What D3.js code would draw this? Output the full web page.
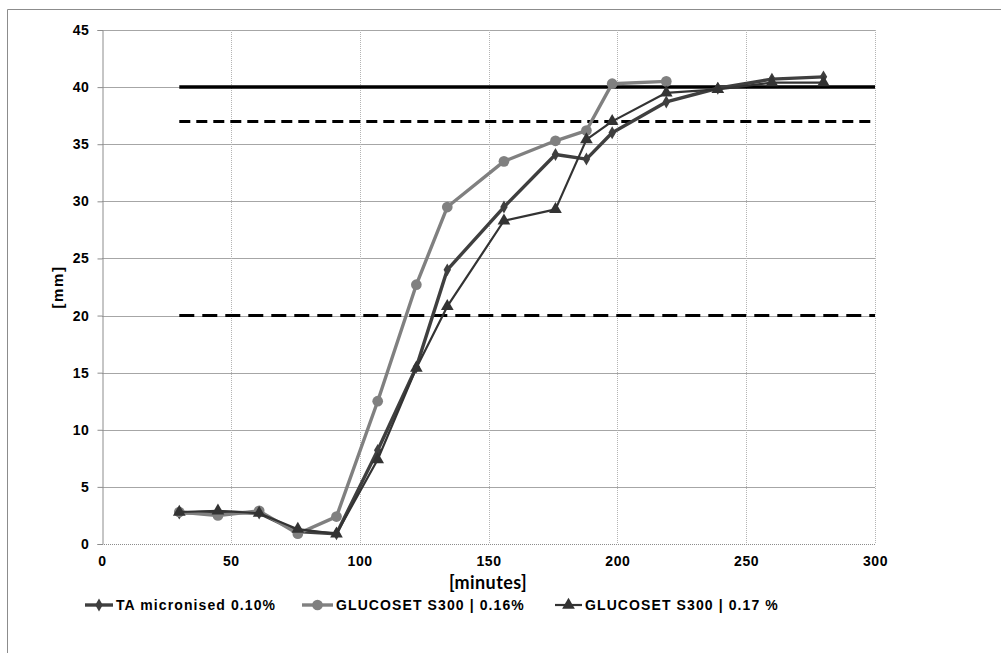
<!DOCTYPE html>
<html>
<head>
<meta charset="utf-8">
<script src="https://cdn.jsdelivr.net/npm/d3@7"></script>
<style>
  html, body { margin: 0; padding: 0; background: #fff; }
  svg { display: block; }
</style>
</head>
<body>
<svg id="chart" width="1001" height="654"></svg>
<script>
// Penetration depth over time for three formulations
const times = [30, 45, 61, 76, 91, 107, 122, 134, 156, 176, 188, 198, 219, 239, 260, 280];
const taMicronised = [2.7, 2.8, 2.7, 1.1, 0.9, 8.2, 15.5, 24.0, 29.5, 34.1, 33.7, 36.0, 38.7, 39.9, 40.7, 40.9];
const glucoset016 = [2.8, 2.5, 2.9, 0.9, 2.4, 12.5, 22.7, 29.5, 33.5, 35.3, 36.2, 40.3, 40.5];
const glucoset017 = [2.8, 2.9, 2.7, 1.3, 0.9, 7.4, 15.4, 20.8, 28.3, 29.3, 35.4, 37.0, 39.5, 39.8, 40.4, 40.4];

const seriesNames = ["TA micronised 0.10%", "GLUCOSET S300 | 0.16%", "GLUCOSET S300 | 0.17 %"];

// Reference levels
const refLevels = [40, 37, 20];
const refStart = 30, refEnd = 300;

const xTicks = [0, 50, 100, 150, 200, 250, 300];
const yTicks = [0, 5, 10, 15, 20, 25, 30, 35, 40, 45];

const svg = d3.select("#chart");

// outer frame
svg.append("path")
  .attr("d", "M7.5,653 L7.5,9.5 L1001,9.5")
  .attr("fill", "none").attr("stroke", "#8c8c8c").attr("stroke-width", 1);

const x = d3.scaleLinear().domain([0, 300]).range([102, 875]);
const y = d3.scaleLinear().domain([0, 45]).range([544, 30]);

const fontTick = "'Liberation Sans', Arial, sans-serif";

// horizontal grid
svg.append("g").selectAll("line").data(yTicks.filter(d => d > 0)).join("line")
  .attr("x1", x(0)).attr("x2", x(300))
  .attr("y1", d => Math.round(y(d)) + 0.5).attr("y2", d => Math.round(y(d)) + 0.5)
  .attr("stroke", "#a6a6a6").attr("stroke-width", 1);

// vertical dotted grid
svg.append("g").selectAll("line").data(xTicks.filter(d => d > 0)).join("line")
  .attr("x1", d => Math.round(x(d)) + 0.5).attr("x2", d => Math.round(x(d)) + 0.5)
  .attr("y1", y(45)).attr("y2", y(0))
  .attr("stroke", "#b4b4b4").attr("stroke-width", 1).attr("stroke-dasharray", "1,1");

// x axis baseline (dotted)
svg.append("line")
  .attr("x1", x(0)).attr("x2", x(300))
  .attr("y1", Math.round(y(0)) + 0.5).attr("y2", Math.round(y(0)) + 0.5)
  .attr("stroke", "#8c8c8c").attr("stroke-dasharray", "1,1");

// y axis
const yAxis = d3.axisLeft(y).tickValues(yTicks).tickSize(5).tickPadding(8).tickFormat(d3.format("d"));
const gy = svg.append("g").attr("transform", `translate(${Math.round(x(0)) + 0.5},0)`).call(yAxis);
gy.select(".domain").attr("stroke", "#8c8c8c");
gy.selectAll(".tick line").attr("stroke", "#8c8c8c");
gy.selectAll("text").attr("font-family", fontTick).attr("font-weight", "bold")
  .attr("font-size", 14).attr("letter-spacing", 0.6).attr("fill", "#000");

// x axis labels
const xAxis = d3.axisBottom(x).tickValues(xTicks).tickSize(0).tickPadding(12).tickFormat(d3.format("d"));
const gx = svg.append("g").attr("transform", `translate(0,${y(0)})`).call(xAxis);
gx.select(".domain").remove();
gx.selectAll("text").attr("font-family", fontTick).attr("font-weight", "bold")
  .attr("font-size", 14).attr("letter-spacing", 0.6).attr("fill", "#000");

// axis titles
svg.append("text").attr("x", 488).attr("y", 589).attr("text-anchor", "middle")
  .attr("font-family", "Lato, 'Open Sans', sans-serif").attr("font-weight", "bold")
  .attr("font-size", 18).attr("letter-spacing", 0.4).attr("fill", "#000").text("[minutes]");
svg.append("text").attr("transform", "translate(63,287) rotate(-90)").attr("text-anchor", "middle")
  .attr("font-family", fontTick).attr("font-weight", "bold")
  .attr("font-size", 15).attr("letter-spacing", 1.6).attr("fill", "#000").text("[mm]");

// reference lines
const refStyles = [
  { w: 3.5, dash: null },
  { w: 3, dash: "11,6" },
  { w: 3, dash: "15,8" }
];
svg.append("g").selectAll("line").data(refLevels).join("line")
  .attr("x1", x(refStart)).attr("x2", x(refEnd))
  .attr("y1", d => y(d)).attr("y2", d => y(d))
  .attr("stroke", "#000")
  .attr("stroke-width", (d, i) => refStyles[i].w)
  .attr("stroke-dasharray", (d, i) => refStyles[i].dash);

const line = d3.line().x(d => x(d[0])).y(d => y(d[1]));

const series = [
  { name: seriesNames[0], values: taMicronised, color: "#3f3f3f", width: 3.4, marker: "diamond", msize: 48 },
  { name: seriesNames[1], values: glucoset016, color: "#808080", width: 3.4, marker: "circle", msize: 90 },
  { name: seriesNames[2], values: glucoset017, color: "#333333", width: 2.2, marker: "triangle", msize: 70 }
];
const symbolFor = { diamond: d3.symbolDiamond, circle: d3.symbolCircle, triangle: d3.symbolTriangle };

series.forEach(s => {
  const pts = s.values.map((v, i) => [times[i], v]);
  const g = svg.append("g");
  g.append("path").datum(pts).attr("d", line)
    .attr("fill", "none").attr("stroke", s.color).attr("stroke-width", s.width)
    .attr("stroke-linejoin", "round");
  g.selectAll("path.m").data(pts).join("path").attr("class", "m")
    .attr("transform", d => `translate(${x(d[0])},${y(d[1])})`)
    .attr("d", d3.symbol().type(symbolFor[s.marker]).size(s.msize))
    .attr("fill", s.color);
});

// legend
const legendItems = [
  { s: series[0], x0: 85, tx: 116 },
  { s: series[1], x0: 302, tx: 336 },
  { s: series[2], x0: 555, tx: 585 }
];
const ly = 605;
const lg = svg.append("g");
legendItems.forEach(it => {
  lg.append("line").attr("x1", it.x0).attr("x2", it.tx - 3).attr("y1", ly).attr("y2", ly)
    .attr("stroke", it.s.color).attr("stroke-width", it.s.width);
  lg.append("path").attr("transform", `translate(${(it.x0 + it.tx - 3) / 2},${ly})`)
    .attr("d", d3.symbol().type(symbolFor[it.s.marker]).size(it.s.msize))
    .attr("fill", it.s.color);
  lg.append("text").attr("x", it.tx).attr("y", ly + 5)
    .attr("font-family", fontTick).attr("font-weight", "bold").attr("font-size", 14)
    .attr("letter-spacing", 1.1).attr("fill", "#000").text(it.s.name);
});
</script>
</body>
</html>
